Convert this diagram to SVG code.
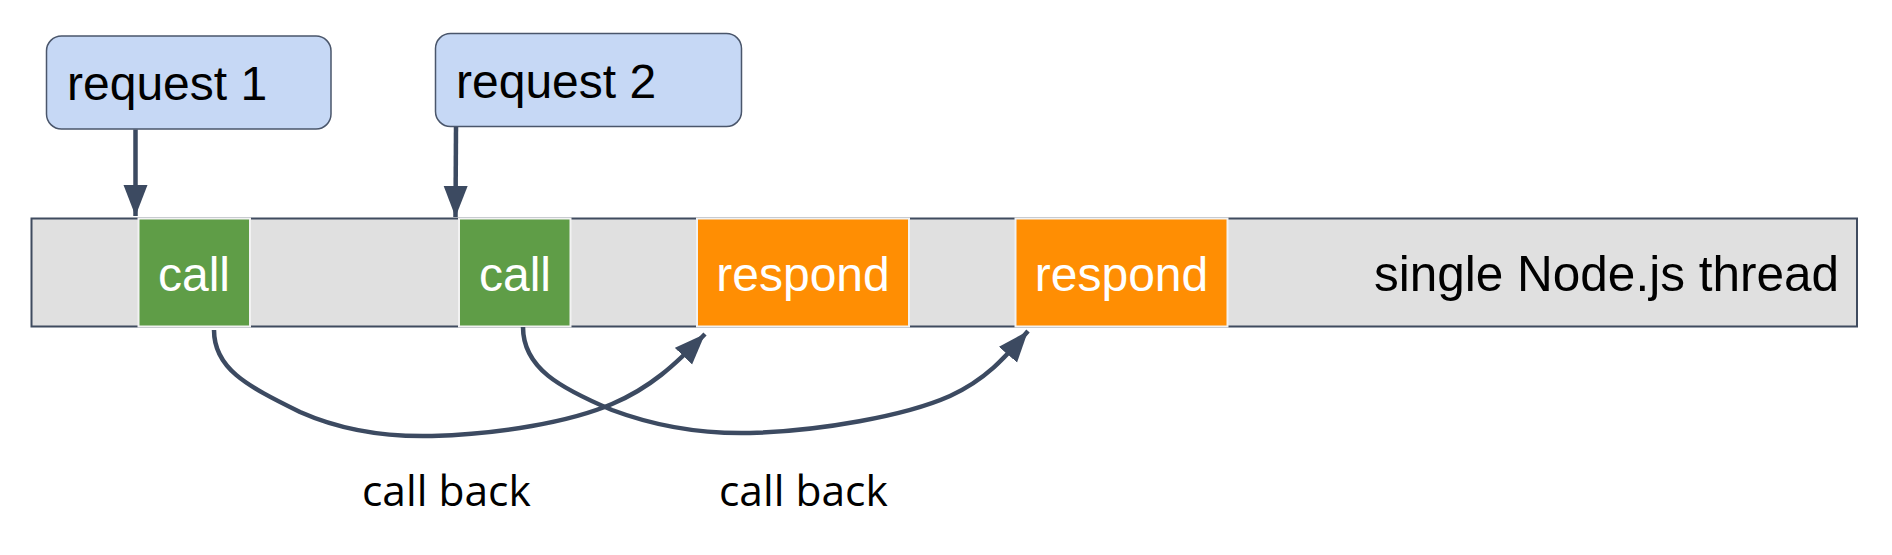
<svg xmlns="http://www.w3.org/2000/svg" width="1892" height="555" viewBox="0 0 1892 555">
<style>
.req{fill:#c6d8f5;stroke:#4a566b;stroke-width:1.5}
.reqt{font-family:"Liberation Sans",Arial,sans-serif;font-size:48px;fill:#000}
.bar{fill:#e0e0e0;stroke:#3f4b5f;stroke-width:2}
.call{fill:#5f9d47;stroke:#f2f2f2;stroke-width:2}
.resp{fill:#ff8e03;stroke:#f2f2f2;stroke-width:2}
.wt{font-family:"Liberation Sans",Arial,sans-serif;font-size:48px;fill:#fff;text-anchor:middle}
.thr{font-family:"Liberation Sans",Arial,sans-serif;font-size:49.5px;fill:#000;text-anchor:end}
.cb{font-family:"Open Sans","Noto Sans",sans-serif;font-size:42.5px;fill:#000}
.conn{fill:none;stroke:#3c4a61;stroke-width:4.5}
</style>
<defs>
<marker id="ah" markerUnits="userSpaceOnUse" markerWidth="34" markerHeight="26" refX="31" refY="12" orient="auto">
<path d="M0,0 L31,12 L0,24 z" fill="#3c4a61"/>
</marker>
</defs>
<g id="thread">
<rect class="bar" x="31.5" y="218.5" width="1825.5" height="108"/>
<text class="thr" x="1839" y="291">single Node.js thread</text>
</g>
<g id="call1">
<rect class="call" x="138.5" y="218.5" width="111.5" height="108"/>
<text class="wt" x="194" y="291">call</text>
</g>
<g id="call2">
<rect class="call" x="459" y="218.5" width="111.5" height="108"/>
<text class="wt" x="515" y="291">call</text>
</g>
<g id="respond1">
<rect class="resp" x="697" y="218.5" width="212" height="108"/>
<text class="wt" x="803" y="291">respond</text>
</g>
<g id="respond2">
<rect class="resp" x="1015.5" y="218.5" width="212" height="108"/>
<text class="wt" x="1121.5" y="291">respond</text>
</g>
<g id="request1">
<rect class="req" x="46.5" y="36" width="284.5" height="93" rx="15"/>
<text class="reqt" x="67" y="100">request 1</text>
</g>
<g id="request2">
<rect class="req" x="435.5" y="33.5" width="306" height="93" rx="15"/>
<text class="reqt" x="456" y="98">request 2</text>
</g>
<g id="connectors">
<path class="conn" d="M135.5,129.5 L135.5,216" marker-end="url(#ah)"/>
<path class="conn" d="M456,127 L455.5,217" marker-end="url(#ah)"/>
<path class="conn" d="M214,330 C214,368 245,385 300,412 C345,432 390,437 432,436 C500,434 570,422 612,404 C650,388 675,365 705,334" marker-end="url(#ah)"/>
<path class="conn" d="M523,327 C523,368 560,388 612,410 C660,428 705,434 750,433 C820,431 905,416 950,396 C985,380 1005,358 1028,331" marker-end="url(#ah)"/>
</g>
<g id="labels">
<text class="cb" x="362" y="506">call back</text>
<text class="cb" x="719" y="506">call back</text>
</g>
</svg>
